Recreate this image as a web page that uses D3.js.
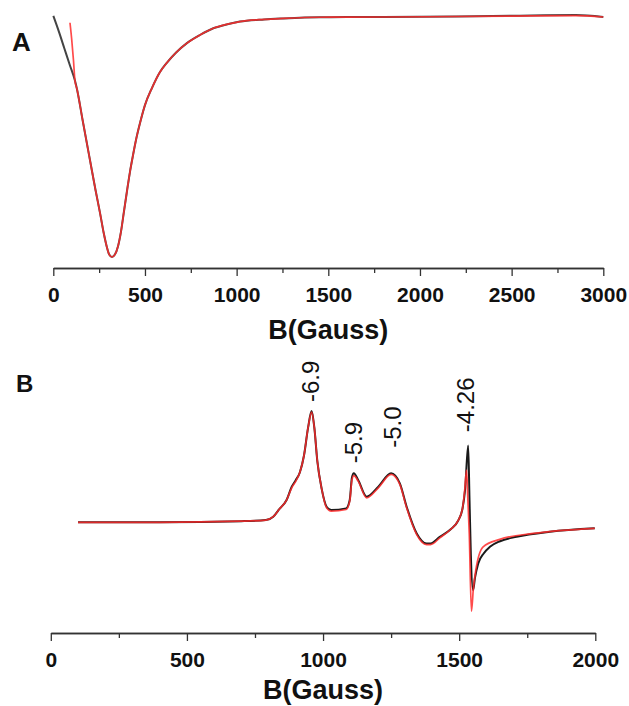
<!DOCTYPE html>
<html lang="en">
  <head>
    <meta charset="UTF-8" />
    <title>EPR spectra</title>
    <script src="https://cdn.jsdelivr.net/npm/d3@7/dist/d3.min.js"></script>
    <style>
      html,
      body {
        margin: 0;
        padding: 0;
        background: #fff;
      }
      svg {
        display: block;
      }
      .tick text {
        font-family: 'Liberation Sans', Arial, sans-serif;
        font-weight: bold;
        font-size: 21px;
        fill: #111;
      }
      .axis path.domain,
      .axis line {
        stroke: #333;
        stroke-width: 1.3;
      }
    </style>
  </head>
  <body>
    <svg width="629" height="706"></svg>
    <script>
      // panel A: field (G) and signal (a.u., plateau 0, minimum -1)
      const aExpField = [0, 30, 60, 90, 118, 129, 160, 200, 230, 255, 275, 292, 305, 320, 336, 353, 369, 385, 402, 418, 435, 451, 473, 500, 538, 582, 618, 670, 727, 800, 873, 950, 1018, 1150, 1253, 1455, 1800, 2200, 2500, 2850, 3000];
      const aExpValue = [0.005, -0.06, -0.13, -0.2, -0.265, -0.3, -0.43, -0.596, -0.72, -0.817, -0.9, -0.958, -0.99, -1.0, -0.99, -0.955, -0.895, -0.8125, -0.725, -0.646, -0.575, -0.5125, -0.442, -0.367, -0.296, -0.229, -0.192, -0.148, -0.11, -0.075, -0.047, -0.03, -0.019, -0.01, -0.006, -0.001, 0.0, 0.002, 0.005, 0.008, 0.0];
      const aFitField = [91, 100, 110, 118, 129, 160, 200, 230, 255, 275, 292, 305, 320, 336, 353, 369, 385, 402, 418, 435, 451, 473, 500, 538, 582, 618, 670, 727, 800, 873, 950, 1018, 1150, 1253, 1455, 1800, 2200, 2500, 2850, 3000];
      const aFitValue = [-0.024, -0.09, -0.18, -0.265, -0.3, -0.43, -0.596, -0.72, -0.817, -0.9, -0.958, -0.99, -1.0, -0.99, -0.955, -0.895, -0.8125, -0.725, -0.646, -0.575, -0.5125, -0.442, -0.367, -0.296, -0.229, -0.192, -0.148, -0.11, -0.075, -0.047, -0.03, -0.019, -0.01, -0.006, -0.001, 0.0, 0.002, 0.004, 0.006, 0.0];

      // panel B
      const bExpField = [100, 400, 700, 790, 817, 840, 866, 885, 900, 915, 930, 945, 958, 968, 979, 995, 1013, 1030, 1085, 1098, 1106, 1113, 1129, 1160, 1203, 1250, 1282, 1307, 1344, 1380, 1395, 1429, 1470, 1495, 1512, 1522, 1533, 1538, 1543, 1551, 1558, 1570, 1590, 1613, 1650, 1711, 1833, 1998];
      const bExpValue = [0, 0, 0.01, 0.02, 0.05, 0.12, 0.2, 0.32, 0.38, 0.45, 0.6, 0.85, 1.0, 0.85, 0.55, 0.3, 0.14, 0.11, 0.125, 0.2, 0.4, 0.44, 0.38, 0.23, 0.32, 0.44, 0.35, 0.14, -0.1, -0.19, -0.19, -0.13, -0.06, 0.01, 0.12, 0.3, 0.69, 0.2, -0.3, -0.61, -0.5, -0.37, -0.28, -0.22, -0.17, -0.13, -0.085, -0.054];
      const bFitField = [100, 400, 700, 790, 817, 840, 866, 885, 900, 915, 930, 945, 958, 968, 979, 995, 1013, 1030, 1085, 1098, 1106, 1113, 1129, 1160, 1203, 1250, 1282, 1307, 1344, 1380, 1395, 1429, 1470, 1495, 1512, 1520, 1527, 1532, 1537, 1545, 1552, 1561, 1588, 1649, 1772, 1998];
      const bFitValue = [0, 0, 0.01, 0.02, 0.05, 0.12, 0.2, 0.31, 0.37, 0.45, 0.6, 0.85, 0.99, 0.85, 0.55, 0.3, 0.13, 0.1, 0.115, 0.19, 0.38, 0.42, 0.37, 0.22, 0.31, 0.43, 0.34, 0.13, -0.11, -0.2, -0.2, -0.14, -0.06, 0.01, 0.12, 0.28, 0.47, 0.2, -0.1, -0.8, -0.6, -0.43, -0.22, -0.153, -0.1, -0.054];

      const bLabels = ['-6.9', '-5.9', '-5.0', '-4.26'];
      const bLabelField = [952, 1110, 1256, 1524];
      const bLabelValue = [1.08, 0.53, 0.67, 0.81];

      const aTicks = [0, 500, 1000, 1500, 2000, 2500, 3000];
      const aMinor = [250, 750, 1250, 1750, 2250, 2750];
      const bTicks = [0, 500, 1000, 1500, 2000];
      const bMinor = [250, 750, 1250, 1750];

      const svg = d3.select('svg');
      const zip = (xs, ys) => xs.map((x, i) => [x, ys[i]]);

      function panel(o) {
        const x = d3.scaleLinear().domain(o.xDomain).range(o.xRange);
        const y = d3.scaleLinear().domain(o.yDomain).range(o.yRange);
        const g = svg.append('g');

        const line = d3
          .line()
          .x(d => x(d[0]))
          .y(d => y(d[1]))
          .curve(d3.curveMonotoneX);

        g.append('path')
          .attr('d', line(zip(o.expX, o.expY)))
          .attr('fill', 'none')
          .attr('stroke', o.expColor)
          .attr('stroke-width', 2);
        g.append('path')
          .attr('d', line(zip(o.fitX, o.fitY)))
          .attr('fill', 'none')
          .attr('stroke', '#ff2b2b')
          .attr('stroke-opacity', 0.85)
          .attr('stroke-width', 1.7);

        g.append('g')
          .attr('class', 'axis')
          .attr('transform', 'translate(0,' + o.axisY + ')')
          .call(d3.axisBottom(x).tickValues(o.minor).tickSize(5).tickSizeOuter(0).tickFormat(''));
        g.append('g')
          .attr('class', 'axis')
          .attr('transform', 'translate(0,' + o.axisY + ')')
          .call(d3.axisBottom(x).tickValues(o.ticks).tickSize(8).tickSizeOuter(0).tickPadding(11).tickFormat(d3.format('d')));

        g.append('text')
          .attr('x', (o.xRange[0] + o.xRange[1]) / 2)
          .attr('y', o.titleY)
          .attr('text-anchor', 'middle')
          .style('font-family', "'Liberation Sans', Arial, sans-serif")
          .style('font-weight', 'bold')
          .style('font-size', '27px')
          .attr('fill', '#111')
          .text('B(Gauss)');

        g.append('text')
          .attr('x', o.letterX)
          .attr('y', o.letterY)
          .style('font-family', "'Liberation Sans', Arial, sans-serif")
          .style('font-weight', 'bold')
          .style('font-size', o.letterSize)
          .attr('fill', '#111')
          .text(o.letter);

        return { g, x, y };
      }

      panel({
        xDomain: [0, 3000], xRange: [53.3, 603.3],
        yDomain: [-1, 0], yRange: [257, 17],
        expX: aExpField, expY: aExpValue, fitX: aFitField, fitY: aFitValue, expColor: '#444',
        ticks: aTicks, minor: aMinor, axisY: 268, titleY: 339,
        letter: 'A', letterX: 12, letterY: 51, letterSize: '26px'
      });

      const pb = panel({
        xDomain: [0, 2000], xRange: [50.8, 595.3],
        yDomain: [-1, 1], yRange: [633.6, 411],
        expX: bExpField, expY: bExpValue, fitX: bFitField, fitY: bFitValue, expColor: '#1a1a1a',
        ticks: bTicks, minor: bMinor, axisY: 633, titleY: 699,
        letter: 'B', letterX: 16, letterY: 392, letterSize: '24px'
      });

      pb.g.selectAll('text.g-label')
        .data(bLabels)
        .enter()
        .append('text')
        .attr('class', 'g-label')
        .attr('transform', (d, i) => 'translate(' + pb.x(bLabelField[i]) + ',' + pb.y(bLabelValue[i]) + ') rotate(-90)')
        .attr('dy', '0.36em')
        .style('font-family', "'Liberation Sans', Arial, sans-serif")
        .style('font-size', '24px')
        .attr('fill', '#111')
        .text(d => d);
    </script>
  </body>
</html>
